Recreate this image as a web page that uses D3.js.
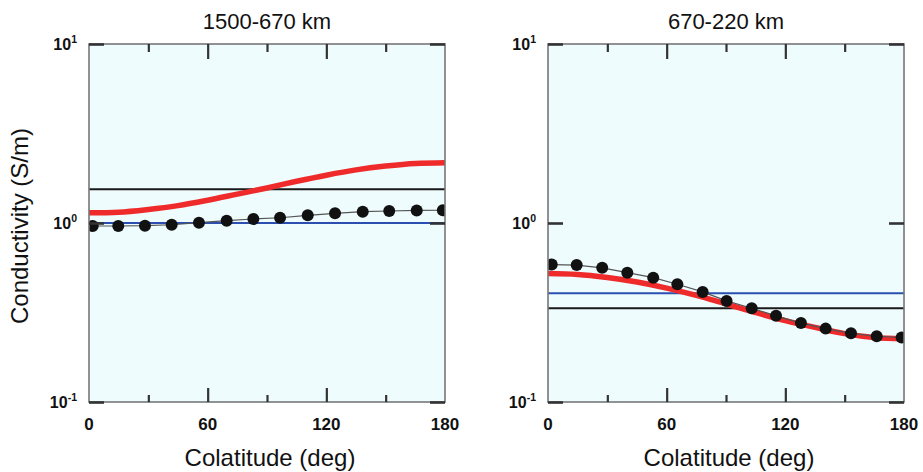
<!DOCTYPE html>
<html>
<head>
<meta charset="utf-8">
<script src="https://cdn.jsdelivr.net/npm/d3@7"></script>
<style>
  html, body { margin: 0; padding: 0; background: #ffffff; }
  svg { display: block; font-family: "Liberation Sans", Arial, Helvetica, sans-serif; }
</style>
</head>
<body>
<svg id="chart" width="923" height="472"></svg>
<script>
// ---------------- data ----------------
const panelTitles = ["1500-670 km", "670-220 km"];
const xTickLabels = [0, 60, 120, 180];
const xMajorInner = [60, 120];
const xMinorInner = [30, 90, 150];
const yTickValues = [0.1, 1, 10];
const yTickExponents = ["-1", "0", "1"];

// red model curves (colatitude, conductivity)
const redColat = [0, 15, 30, 45, 60, 75, 90, 105, 120, 135, 150, 165, 180];
const redLeft  = [1.14, 1.15, 1.19, 1.25, 1.34, 1.45, 1.57, 1.71, 1.85, 1.98, 2.08, 2.15, 2.17];
const redRight = [0.522, 0.516, 0.496, 0.468, 0.433, 0.394, 0.353, 0.316, 0.285, 0.261, 0.241, 0.229, 0.225];

// black dotted series
const dotColatLeft  = [1.9, 14.8, 28.3, 41.8, 55.6, 69.6, 83.1, 96.6, 110.6, 124.4, 138.4, 151.8, 165.7, 178.9];
const dotLeft       = [0.962, 0.962, 0.966, 0.978, 1.004, 1.03, 1.053, 1.07, 1.104, 1.133, 1.157, 1.167, 1.175, 1.178];
const dotColatRight = [1.9, 14.5, 27.4, 40.1, 53.2, 65.4, 78.2, 90.3, 103.0, 115.3, 127.9, 140.4, 153.2, 166.2, 178.8];
const dotRight      = [0.586, 0.582, 0.562, 0.528, 0.495, 0.455, 0.412, 0.367, 0.334, 0.303, 0.276, 0.257, 0.242, 0.233, 0.229];

// horizontal reference lines
const blueLevel  = [1.0, 0.405];
const blackLevel = [1.543, 0.334];

// ---------------- layout ----------------
const svg = d3.select("#chart");
const plotTop = 44, plotBottom = 402;
const panelX = [[89, 445], [548, 904]];
const panels = [
  { title: panelTitles[0], red: redLeft,  dotX: dotColatLeft,  dotY: dotLeft,  blue: blueLevel[0], black: blackLevel[0] },
  { title: panelTitles[1], red: redRight, dotX: dotColatRight, dotY: dotRight, blue: blueLevel[1], black: blackLevel[1] }
];

const y = d3.scaleLog().domain([0.1, 10]).range([plotBottom, plotTop]);

panels.forEach((p, i) => {
  const x = d3.scaleLinear().domain([0, 180]).range(panelX[i]);
  const g = svg.append("g");
  const x0 = panelX[i][0], x1 = panelX[i][1];

  const clipId = "clip" + i;
  svg.append("clipPath").attr("id", clipId)
    .append("rect").attr("x", x0).attr("y", plotTop).attr("width", x1 - x0).attr("height", plotBottom - plotTop);

  // background
  g.append("rect").attr("x", x0).attr("y", plotTop).attr("width", x1 - x0).attr("height", plotBottom - plotTop)
    .attr("fill", "#effcfd");

  const plot = g.append("g").attr("clip-path", `url(#${clipId})`);

  // blue and black horizontal lines
  plot.append("line").attr("x1", x(0)).attr("x2", x(180)).attr("y1", y(p.blue)).attr("y2", y(p.blue))
    .attr("stroke", "#2a4fb0").attr("stroke-width", 2.2);
  plot.append("line").attr("x1", x(0)).attr("x2", x(180)).attr("y1", y(p.black)).attr("y2", y(p.black))
    .attr("stroke", "#1a1a1a").attr("stroke-width", 2);

  // red curve
  const redLine = d3.line().x((d, k) => x(redColat[k])).y(d => y(d)).curve(d3.curveMonotoneX);
  plot.append("path").datum(p.red).attr("d", redLine)
    .attr("fill", "none").attr("stroke", "#ee2a2a").attr("stroke-width", 5.5);

  // dots with connecting line
  const dotData = p.dotX.map((c, k) => ({ c, v: p.dotY[k] }));
  const dLine = d3.line().x(d => x(d.c)).y(d => y(d.v));
  plot.append("path").datum(dotData).attr("d", dLine)
    .attr("fill", "none").attr("stroke", "#555").attr("stroke-width", 1.2);
  plot.selectAll("circle.dot").data(dotData).enter().append("circle")
    .attr("class", "dot").attr("cx", d => x(d.c)).attr("cy", d => y(d.v)).attr("r", 6)
    .attr("fill", "#111");

  // frame
  g.append("rect").attr("x", x0).attr("y", plotTop).attr("width", x1 - x0).attr("height", plotBottom - plotTop)
    .attr("fill", "none").attr("stroke", "#777").attr("stroke-width", 1.6);

  // inner ticks built with d3 axes
  const tickColor = "#333";
  const styleAxis = sel => {
    sel.select(".domain").remove();
    sel.selectAll(".tick text").remove();
    sel.selectAll(".tick line").attr("stroke", tickColor).attr("stroke-width", 2.2);
  };
  g.append("g").attr("transform", `translate(0,${plotTop})`)
    .call(d3.axisTop(x).tickValues(xMajorInner).tickSize(-15)).call(styleAxis);
  g.append("g").attr("transform", `translate(0,${plotTop})`)
    .call(d3.axisTop(x).tickValues(xMinorInner).tickSize(-8)).call(styleAxis);
  g.append("g").attr("transform", `translate(0,${plotBottom})`)
    .call(d3.axisBottom(x).tickValues(xMajorInner).tickSize(-14)).call(styleAxis);
  g.append("g").attr("transform", `translate(0,${plotBottom})`)
    .call(d3.axisBottom(x).tickValues(xMinorInner).tickSize(-7)).call(styleAxis);
  g.append("g").attr("transform", `translate(${x0},0)`)
    .call(d3.axisLeft(y).tickValues(yTickValues).tickSize(-15)).call(styleAxis)
    .selectAll(".tick line").attr("stroke-width", 2.6);
  g.append("g").attr("transform", `translate(${x1},0)`)
    .call(d3.axisRight(y).tickValues(yTickValues).tickSize(-15)).call(styleAxis)
    .selectAll(".tick line").attr("stroke-width", 2.6);

  // x tick labels
  g.selectAll("text.xt").data(xTickLabels).enter().append("text")
    .attr("class", "xt").attr("x", d => x(d)).attr("y", 430)
    .attr("text-anchor", "middle").attr("font-size", 17).attr("font-weight", "bold").attr("fill", "#111")
    .text(d => d);

  // y tick labels with superscripts
  yTickValues.forEach((v, k) => {
    const t = g.append("text").attr("x", x0 - 12).attr("y", y(v) + 6)
      .attr("text-anchor", "end").attr("font-size", 16).attr("font-weight", "bold").attr("fill", "#111");
    t.append("tspan").text("10");
    t.append("tspan").attr("font-size", 10.5).attr("dy", -7).text(yTickExponents[k]);
  });

  // title
  g.append("text").attr("x", (x0 + x1) / 2).attr("y", 29).attr("text-anchor", "middle")
    .attr("font-size", 22).attr("fill", "#111").text(p.title);

  // x label
  g.append("text").attr("x", (x0 + x1) / 2 + 3).attr("y", 466).attr("text-anchor", "middle")
    .attr("font-size", 24).attr("fill", "#111").text("Colatitude (deg)");
});

// y label
svg.append("text").attr("transform", "translate(28,226) rotate(-90)")
  .attr("text-anchor", "middle").attr("font-size", 24).attr("fill", "#111")
  .text("Conductivity (S/m)");
</script>
</body>
</html>
